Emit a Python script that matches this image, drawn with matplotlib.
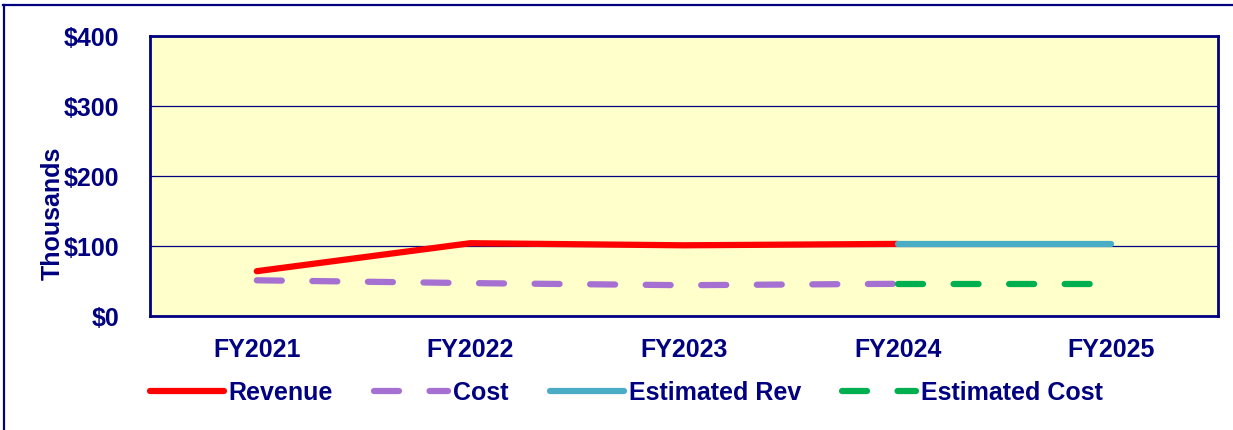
import numpy as np
import matplotlib
matplotlib.use("Agg")
import matplotlib.pyplot as plt
from matplotlib.lines import Line2D

# DATA (thousands of $)
years = ["FY2021", "FY2022", "FY2023", "FY2024", "FY2025"]
revenue = [64, 104, 101, 103]          # FY2021-FY2024
cost = [51, 47, 44, 46]                # FY2021-FY2024
est_rev = [103, 103]                   # FY2024-FY2025
est_cost = [46, 46]                    # FY2024-FY2025
yticks = [0, 100, 200, 300, 400]

NAVY = "#000080"
plt.rcParams['font.family'] = ['Liberation Sans', 'DejaVu Sans']
plt.rcParams['font.weight'] = 'bold'
plt.rcParams['lines.scale_dashes'] = False

W, H = 1233, 430
fs = 18
fig = plt.figure(figsize=(W / 100, H / 100), dpi=100)
ax = fig.add_axes([150 / W, 1 - 316 / H, (1218 - 150) / W, (316 - 36) / H])
ax.set_facecolor("#FFFFCC")

x = np.arange(len(years))
lw = 4.5
dash = (18, 22)
ax.plot(x[:4], revenue, color="#FF0000", lw=lw, solid_capstyle="round", zorder=3)
ax.plot(x[:4], cost, color="#A66FD2", lw=lw, dashes=dash, dash_capstyle="round", zorder=3)
ax.plot(x[3:], est_rev, color="#4BACC6", lw=lw, solid_capstyle="round", zorder=3)
ax.plot(x[3:], est_cost, color="#00B050", lw=lw, dashes=dash, dash_capstyle="round", zorder=3)

ax.set_xlim(-0.5, 4.5)
ax.set_ylim(0, 400)
ax.set_yticks(yticks)
ax.set_yticklabels(["${}".format(v) for v in yticks])
ax.set_xticks(x)
ax.set_xticklabels(years)
ax.grid(axis="y", color=NAVY, lw=0.9, zorder=1)
ax.tick_params(axis="both", length=0, labelsize=fs, colors=NAVY)
ax.tick_params(axis="y", pad=22)
ax.tick_params(axis="x", pad=16)
for sp in ax.spines.values():
    sp.set_color(NAVY)
    sp.set_linewidth(2.0)
    sp.set_zorder(4)

fig.text(53 / W, 1 - 213 / H, "Thousands", rotation=90, ha="center", va="center",
         fontsize=fs, color=NAVY, fontweight="bold")

handles = [
    Line2D([], [], color="#FF0000", lw=lw, solid_capstyle="round"),
    Line2D([], [], color="#A66FD2", lw=lw, dashes=dash, dash_capstyle="round"),
    Line2D([], [], color="#4BACC6", lw=lw, solid_capstyle="round"),
    Line2D([], [], color="#00B050", lw=lw, dashes=dash, dash_capstyle="round"),
]
labels = ["Revenue", "Cost", "Estimated Rev", "Estimated Cost"]
leg = fig.legend(handles, labels, loc="center left", bbox_to_anchor=(150 / W, 1 - 393 / H),
                 bbox_transform=fig.transFigure, ncol=4, frameon=False, borderpad=0,
                 borderaxespad=0, handlelength=2.95, handletextpad=0.2, columnspacing=1.65,
                 prop={"size": fs, "weight": "bold"})
for t in leg.get_texts():
    t.set_color(NAVY)

# outer frame (top and left edges)
fig.add_artist(Line2D([3 / W, 1], [1 - 5 / H, 1 - 5 / H], transform=fig.transFigure,
                      color=NAVY, lw=1.6))
fig.add_artist(Line2D([4 / W, 4 / W], [0, 1 - 5 / H], transform=fig.transFigure,
                      color=NAVY, lw=1.6))

fig.savefig("out.png", dpi=100)
